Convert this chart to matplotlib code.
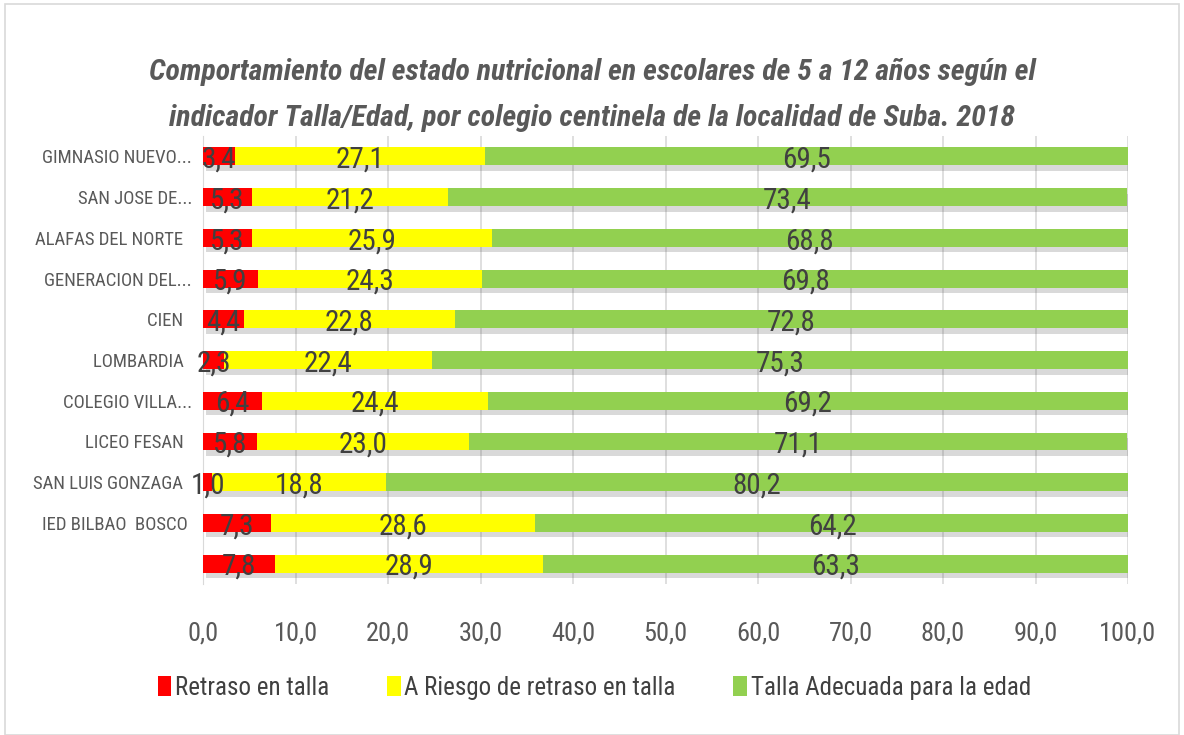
import numpy as np
import matplotlib
matplotlib.use("Agg")
from matplotlib import pyplot as plt
from matplotlib import patheffects as pe
from matplotlib.patches import Rectangle, Patch

plt.rcParams['font.family'] = ['Roboto Condensed', 'DejaVu Sans']

colegios = ['GIMNASIO NUEVO...', 'SAN JOSE DE...', 'ALAFAS DEL NORTE  ', 'GENERACION DEL...',
            'CIEN  ', 'LOMBARDIA  ', 'COLEGIO VILLA...', 'LICEO FESAN  ', 'SAN LUIS GONZAGA  ',
            'IED BILBAO  BOSCO ', '']
retraso = [3.4, 5.3, 5.3, 5.9, 4.4, 2.3, 6.4, 5.8, 1.0, 7.3, 7.8]
riesgo = [27.1, 21.2, 25.9, 24.3, 22.8, 22.4, 24.4, 23.0, 18.8, 28.6, 28.9]
adecuada = [69.5, 73.4, 68.8, 69.8, 72.8, 75.3, 69.2, 71.1, 80.2, 64.2, 63.3]
series = ['Retraso en talla', 'A Riesgo de retraso en talla', 'Talla Adecuada para la edad']
colores = ['#ff0000', '#ffff00', '#92d050']

fig = plt.figure(figsize=(11.84, 7.35), dpi=100)
fig.patches.append(Rectangle((0.004, 0.0), 0.992, 0.995, transform=fig.transFigure,
                             fill=False, edgecolor='#d9d9d9', lw=1.2))
ax = fig.add_axes([0.1715, 0.2054, 0.7812, 0.6095])

y = np.arange(len(colegios))
left = np.zeros(len(colegios))
sombra = [pe.SimplePatchShadow(offset=(2, -4), alpha=0.22, shadow_rgbFace='#555555'), pe.Normal()]
for vals, col in zip([retraso, riesgo, adecuada], colores):
    vals = np.array(vals)
    bars = ax.barh(y, vals, left=left, height=0.44, color=col, zorder=3)
    for b in bars:
        b.set_path_effects(sombra)
    for yi, l, v in zip(y, left, vals):
        ax.text(l + v / 2, yi + 0.08, f'{v:.1f}'.replace('.', ','), ha='center', va='center',
                fontsize=21, color='#404040', zorder=5)
    left = left + vals

ax.set_xlim(0, 100)
ax.set_ylim(len(colegios) - 0.5, -0.5)
ax.set_xticks(np.arange(0, 101, 10))
ax.set_xticklabels([f'{v:.1f}'.replace('.', ',') for v in np.arange(0, 101, 10)],
                   fontsize=19, color='#595959')
ax.set_yticks(y)
ax.set_yticklabels(colegios, fontsize=13.5, color='#595959')
ax.tick_params(axis='x', length=0, pad=27)
ax.tick_params(axis='y', length=0, pad=8)
ax.grid(axis='x', color='#d9d9d9', lw=1.2, zorder=0)
for s in ['top', 'right', 'bottom']:
    ax.spines[s].set_visible(False)
ax.spines['left'].set_color('#d9d9d9')

fig.text(0.5, 1 - 72 / 735, 'Comportamiento del estado nutricional en escolares de 5 a 12 años según el',
         ha='center', va='center', fontsize=21.5, style='italic', weight='bold', color='#595959')
fig.text(0.5, 1 - 118 / 735, 'indicador Talla/Edad, por colegio centinela de la localidad de Suba. 2018',
         ha='center', va='center', fontsize=21.5, style='italic', weight='bold', color='#595959')

handles = [Patch(facecolor=c, label=s) for c, s in zip(colores, series)]
leg = fig.legend(handles=handles, loc='center', bbox_to_anchor=(0.502, 1 - 688 / 735), ncol=3,
                 frameon=False, fontsize=18, handlelength=0.55, handleheight=0.85,
                 handletextpad=0.15, columnspacing=2.3)
for t in leg.get_texts():
    t.set_color('#404040')

fig.savefig('out.png', dpi=100)
